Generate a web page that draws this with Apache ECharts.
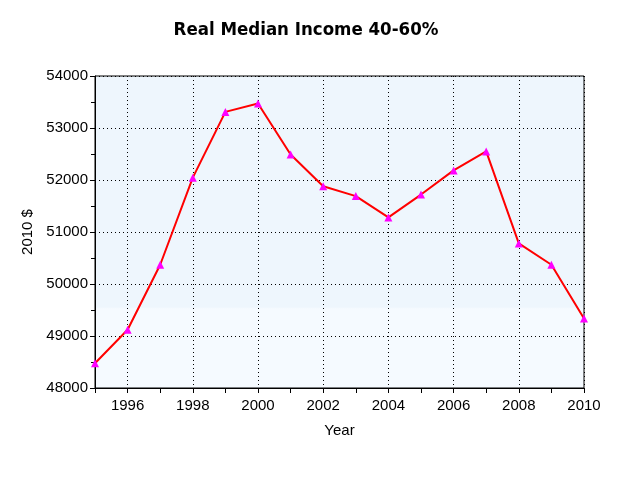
<!DOCTYPE html>
<html><head><meta charset="utf-8">
<script src="https://cdn.jsdelivr.net/npm/echarts@6/dist/echarts.min.js"></script>
<style>html,body{margin:0;padding:0;background:#fff}#c{width:640px;height:480px}</style>
</head><body><div id="c"></div>
<script>
const years = [1995,1996,1997,1998,1999,2000,2001,2002,2003,2004,2005,2006,2007,2008,2009,2010];
const income = [48475,49120,50370,52045,53310,53470,52490,51880,51690,51280,51720,52185,52550,50780,50370,49335];
const title = 'Real Median Income 40-60%';
const xName = 'Year';
const yName = '2010 $';

const chart = echarts.init(document.getElementById('c'), null, {renderer:'canvas'});
chart.setOption({
  animation:false,
  backgroundColor:'#fff',
  title:{text:title,left:301,top:16,textAlign:'center',
    textStyle:{fontFamily:'"Liberation Sans Narrow","DejaVu Sans Condensed",sans-serif',fontWeight:'bold',fontSize:18.5,color:'#000'}},
  grid:{left:95,right:56,top:76,bottom:92,show:true,borderColor:'#000',borderWidth:1,
    backgroundColor:{type:'linear',x:0,y:0,x2:0,y2:1,colorStops:[
      {offset:0,color:'#eef6fd'},{offset:0.74,color:'#eef6fd'},{offset:0.745,color:'#f5faff'},{offset:1,color:'#f5faff'}]}},
  xAxis:{type:'value',min:1995,max:2010,interval:1,
    name:xName,nameLocation:'middle',nameGap:35,
    nameTextStyle:{fontFamily:'"Liberation Sans",Arial,sans-serif',fontSize:15,color:'#000'},
    axisLine:{show:true,lineStyle:{color:'#000'}},
    axisTick:{show:true,length:5,lineStyle:{color:'#000'}},
    axisLabel:{fontFamily:'"Liberation Sans",Arial,sans-serif',fontSize:15,color:'#000',margin:10,
      formatter:v=> (v%2===0 ? String(v) : '')},
    splitLine:{show:true,lineStyle:{color:['rgba(0,0,0,0)','#000'],type:[1,3],width:1}}},
  yAxis:{type:'value',min:48000,max:54000,interval:1000,
    name:yName,nameLocation:'middle',nameGap:56,nameRotate:90,
    nameTextStyle:{fontFamily:'"Liberation Sans",Arial,sans-serif',fontSize:15,color:'#000'},
    axisLine:{show:true,lineStyle:{color:'#000'}},
    axisTick:{show:true,length:5,lineStyle:{color:'#000'}},
    minorTick:{show:true,splitNumber:2,length:4,lineStyle:{color:'#000'}},
    axisLabel:{fontFamily:'"Liberation Sans",Arial,sans-serif',fontSize:15,color:'#000',margin:7,
      formatter:v=>String(v)},
    splitLine:{show:true,lineStyle:{color:'#000',type:[1,3],width:1}}},
  series:[{type:'line',data:years.map((y,i)=>[y,income[i]]),
    lineStyle:{color:'#ff0000',width:2},
    symbol:'triangle',symbolSize:8,
    itemStyle:{color:'#ff00ff',borderWidth:0}}]
});
</script></body></html>
